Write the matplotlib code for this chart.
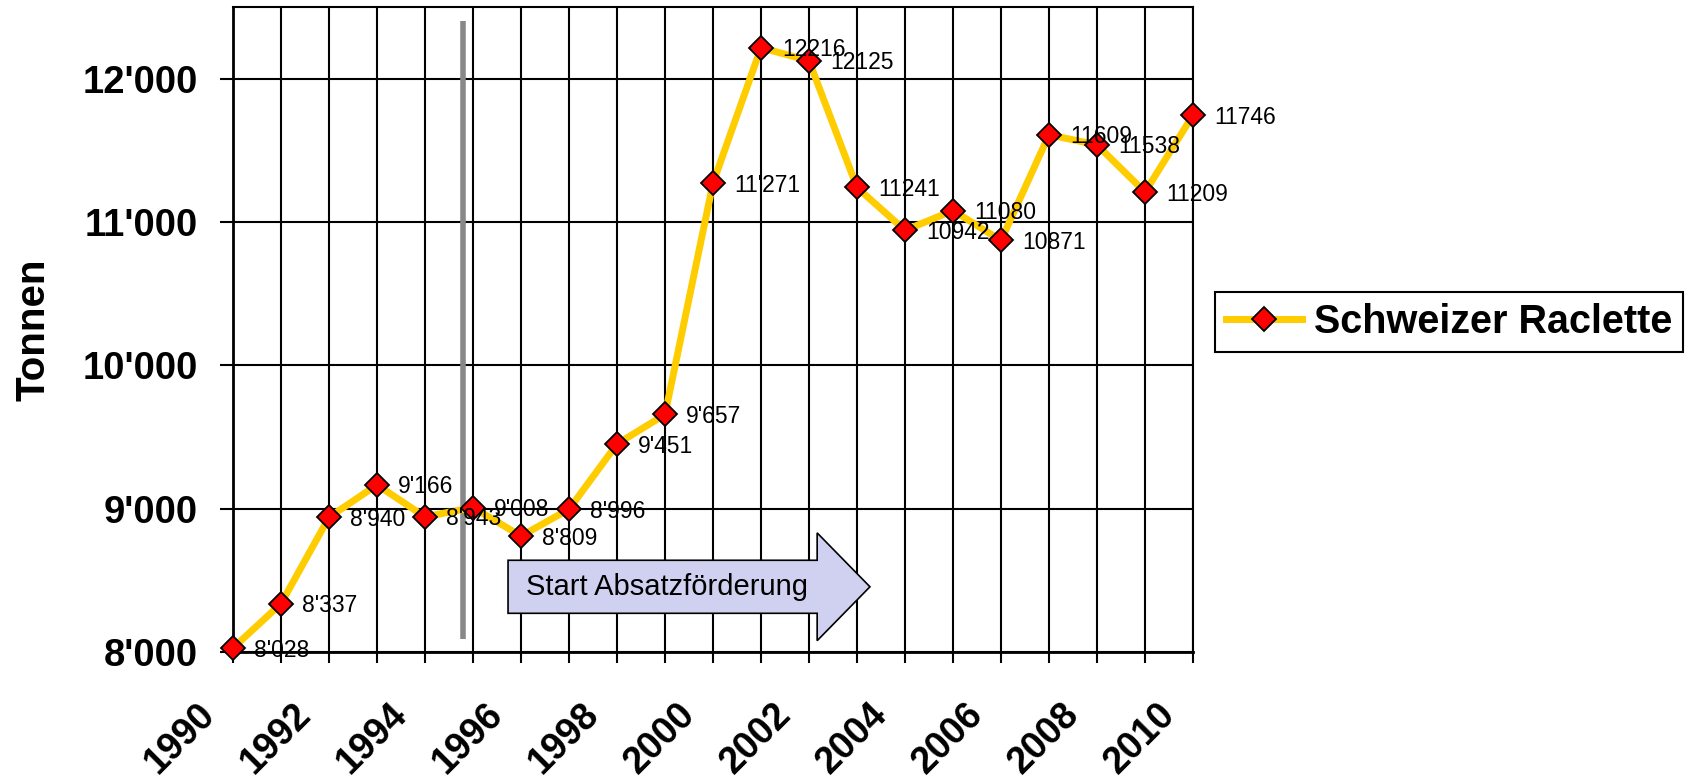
import matplotlib
matplotlib.use("Agg")
import matplotlib.pyplot as plt
from matplotlib.patches import FancyArrow
from matplotlib.transforms import ScaledTranslation

plt.rcParams['font.family'] = ['Liberation Sans', 'DejaVu Sans']

years = list(range(1990, 2011))
values = [8028, 8337, 8940, 9166, 8943, 9008, 8809, 8996, 9451, 9657,
          11271, 12216, 12125, 11241, 10942, 11080, 10871, 11609, 11538, 11209, 11746]
labels = ["8'028", "8'337", "8'940", "9'166", "8'943", "9'008", "8'809", "8'996", "9'451", "9'657",
          "11'271", "12216", "12125", "11241", "10942", "11080", "10871", "11609", "11538", "11209", "11746"]
ytick_vals = [8000, 9000, 10000, 11000, 12000]
ytick_labels = ["8'000", "9'000", "10'000", "11'000", "12'000"]
series_name = "Schweizer Raclette"
ylabel = "Tonnen"
arrow_text = "Start Absatzförderung"

fig = plt.figure(figsize=(16.87, 7.78), dpi=100)
ax = fig.add_axes([233/1687, 1-652/778, (1193-233)/1687, (652-7)/778])

ax.set_xlim(1990, 2010)
ax.set_ylim(8000, 12500)

ax.set_xticks(years)
ax.set_xticklabels([str(y) if y % 2 == 0 else '' for y in years],
                   rotation=45, ha='right', va='top', fontsize=27, fontweight='bold')
ax.set_yticks(ytick_vals)
ax.set_yticklabels(ytick_labels, fontsize=27.5, fontweight='bold')
ax.tick_params(axis='x', length=8, width=1.5, pad=24, direction='out')
ax.tick_params(axis='y', length=9.4, width=1.5, pad=16, direction='out')
for lab in ax.get_xticklabels():
    lab.set_transform(lab.get_transform() + ScaledTranslation(-0.11, 0, fig.dpi_scale_trans))

ax.grid(True, color='black', linewidth=1.5)
ax.set_axisbelow(True)
for s in ['left', 'bottom']:
    ax.spines[s].set_linewidth(2.0)
for s in ['top', 'right']:
    ax.spines[s].set_linewidth(1.5)

# separator line
ax.plot([1994.8, 1994.8], [8090, 12400], color='#888888', linewidth=4, solid_capstyle='butt', zorder=3)

# arrow
arr = FancyArrow(1995.73, 8455, 7.54, 0, width=370, head_width=752, head_length=1.1,
                 length_includes_head=True, facecolor='#D0D0F0', edgecolor='black', linewidth=1.2, zorder=3)
ax.add_patch(arr)
ax.text(1999.05, 8455, arrow_text, ha='center', va='center', fontsize=21, zorder=4)

ax.plot(years, values, color='#FFCC00', linewidth=5, marker='D', markersize=12,
        markerfacecolor='#FF0000', markeredgecolor='black', markeredgewidth=1.3,
        label=series_name, zorder=5, clip_on=False)

for x, v, t in zip(years, values, labels):
    ax.annotate(t, (x, v), xytext=(15, -1.5), textcoords='offset points',
                ha='left', va='center', fontsize=16.5, zorder=6, annotation_clip=False)

ax.set_ylabel(ylabel, fontsize=29, fontweight='bold')
ax.yaxis.set_label_coords(-0.188, 0.5)

leg = fig.legend(loc='center right', bbox_to_anchor=(1683/1687, 1-322/778),
                 bbox_transform=fig.transFigure, borderaxespad=0,
                 prop={'size': 28.5, 'weight': 'bold'}, fancybox=False, shadow=False,
                 edgecolor='black', framealpha=1, handlelength=1.9, handletextpad=0.3,
                 borderpad=0.28)
leg.get_frame().set_linewidth(1.5)

fig.savefig('out.png', dpi=100)
